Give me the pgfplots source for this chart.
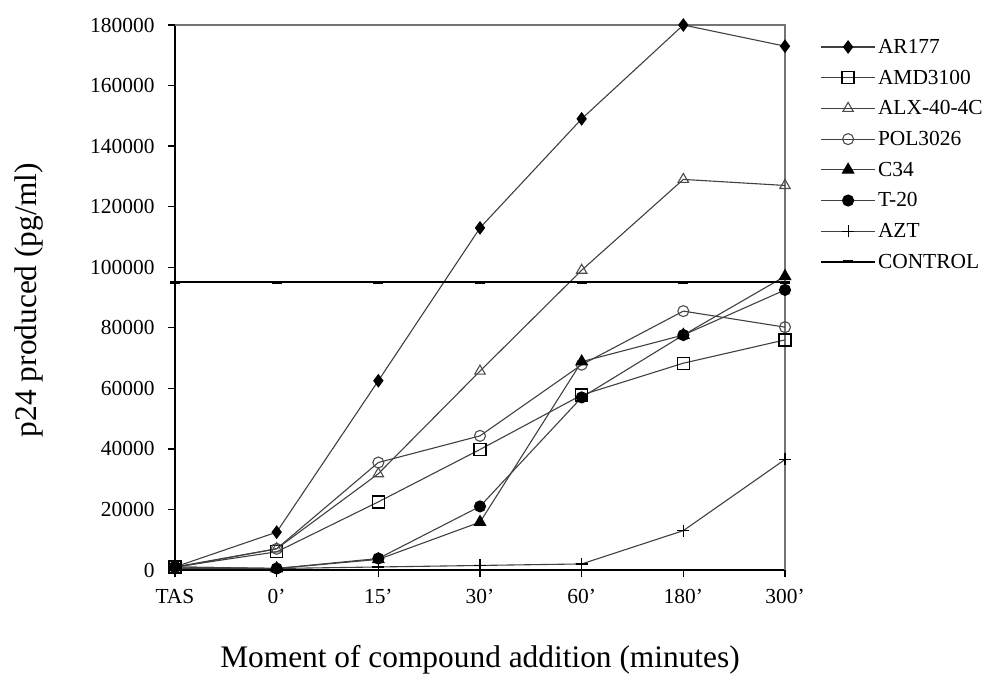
\documentclass[border=0pt]{standalone}
\usepackage{pgfplots}
\pgfplotsset{compat=1.18}
\usepackage{fontspec}
\setmainfont{Liberation Serif}

\begin{document}
\begin{tikzpicture}[x=1bp,y=1bp]
\path[use as bounding box] (-175,-114) rectangle (813,570);
\begin{axis}[
    at={(0,0)}, anchor=south west,
    scale only axis, width=610bp, height=545bp,
    xmin=0, xmax=6, ymin=0, ymax=180000,
    clip=false,
    xtick={0,...,6},
    xticklabels={TAS,0',15',30',60',180',300'},
    ytick={0,20000,...,180000},
    scaled y ticks=false,
    yticklabel style={xshift=-10bp, /pgf/number format/.cd, fixed, set thousands separator={}, assume math mode=true},
    ticklabel style={font=\fontsize{21.5}{24}\selectfont},
    xticklabel style={yshift=-9bp},
    axis x line=bottom, axis y line=left,
    axis line style={-, line width=1.6bp, black},
    tick align=outside, major tick length=7bp,
    tick style={black, line width=1.3bp},
    xlabel={Moment of compound addition (minutes)},
    ylabel={p24 produced (pg/ml)},
    every axis x label/.style={at={(axis description cs:0.5,-0.165)}, anchor=center, font=\fontsize{31.5}{35}\selectfont},
    every axis y label/.style={at={(axis description cs:-0.24,0.495)}, anchor=center, rotate=90, font=\fontsize{31.5}{35}\selectfont},
    legend style={at={(axis description cs:1,1)}, anchor=north west, xshift=35bp, yshift=-12bp,
        draw=none, fill=none, font=\fontsize{21.5}{24}\selectfont, row sep=11bp, inner sep=0pt},
    legend cell align=left,
    legend image code/.code={\draw[mark repeat=2, mark phase=2, #1] plot coordinates {(0bp,0bp) (27bp,0bp) (54bp,0bp)};},
    every axis plot/.append style={line width=1.1bp, black!75},
]
\draw[black!55, line width=1.2bp] (rel axis cs:0,1) -- (rel axis cs:1,1) -- (rel axis cs:1,0);

\addplot[mark=diamond*, mark size=6bp, mark options={black, fill=black}] coordinates {
    (0,1000) (1,12500) (2,62500) (3,113000) (4,149000) (5,180000) (6,173000)};
\addlegendentry{AR177}
\addplot[mark=square, mark size=6bp, mark options={black, fill=white, line width=1.3bp}] coordinates {
    (0,1000) (1,6000) (2,22500) (3,39800) (4,57800) (5,68300) (6,76000)};
\addlegendentry{AMD3100}
\addplot[mark=triangle, mark size=6bp, mark options={black!70, fill=white, line width=1.1bp}] coordinates {
    (0,800) (1,7000) (2,31800) (3,65700) (4,99000) (5,129000) (6,127000)};
\addlegendentry{ALX-40-4C}
\addplot[mark=o, mark size=5.5bp, mark options={black!70, fill=white, line width=1.1bp}] coordinates {
    (0,1000) (1,7000) (2,35500) (3,44300) (4,67800) (5,85500) (6,80200)};
\addlegendentry{POL3026}
\addplot[mark=triangle*, mark size=6.5bp, mark options={black, fill=black}] coordinates {
    (0,1000) (1,500) (2,3500) (3,15800) (4,68800) (5,77600) (6,97000)};
\addlegendentry{C34}
\addplot[mark=*, mark size=5.5bp, mark options={black, fill=black}] coordinates {
    (0,1000) (1,500) (2,3800) (3,21000) (4,57000) (5,77600) (6,92500)};
\addlegendentry{T-20}
\addplot[mark=+, mark size=6bp, mark options={black, line width=1.2bp}] coordinates {
    (0,500) (1,500) (2,1000) (3,1500) (4,2000) (5,13000) (6,36500)};
\addlegendentry{AZT}
\addplot[black, line width=1.8bp, mark=-, mark size=5bp, mark options={black, line width=3bp}] coordinates {
    (0,95000) (1,95000) (2,95000) (3,95000) (4,95000) (5,95000) (6,95000)};
\addlegendentry{CONTROL}
\end{axis}
\end{tikzpicture}
\end{document}
